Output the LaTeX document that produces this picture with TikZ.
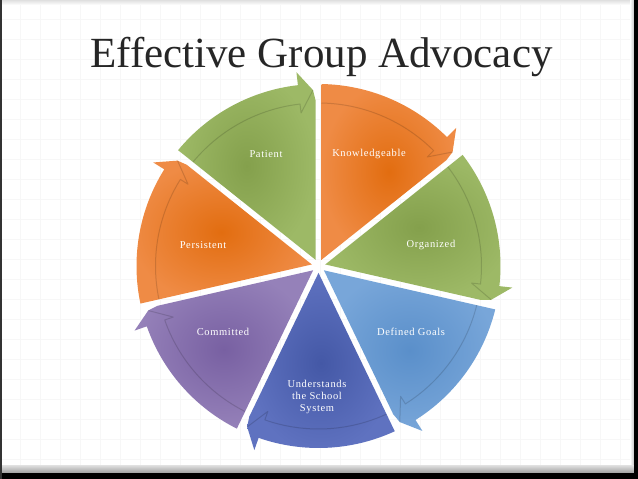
\documentclass[tikz,border=0pt]{standalone}
\usepackage{fontspec}
\setmainfont{Liberation Serif}
\newfontfamily\labelfont[LetterSpace=6]{Liberation Serif}
\definecolor{grnIn}{HTML}{84A04C}
\definecolor{grnOut}{HTML}{9DB966}
\definecolor{orgIn}{HTML}{E26D10}
\definecolor{orgOut}{HTML}{EF8B45}
\definecolor{ltbIn}{HTML}{5A8FCA}
\definecolor{ltbOut}{HTML}{78A6D9}
\definecolor{dkbIn}{HTML}{4458A6}
\definecolor{dkbOut}{HTML}{5F72C0}
\definecolor{purIn}{HTML}{7860A2}
\definecolor{purOut}{HTML}{9581B9}
\definecolor{titlecol}{HTML}{262626}
\newcommand\pieseg[4]{%
  \pgfmathsetmacro\sa{#1}%
  \pgfmathsetmacro\sb{#2}%
  \pgfmathsetmacro\segmid{(#1+#2)/2}%
  \shade[inner color=#3, outer color=#4]
    (\segmid:6.91) -- ({\sa-asin(3/182)}:182)
    arc[start angle={\sa-asin(3/182)}, end angle={\sb+6.5}, radius=182]
    -- ({\sb+6.5}:195) -- ({\sb+1.8}:176) -- ({\sb+asin(3/166)}:166) -- cycle;
  \draw[shadowline] ({\sa-asin(3/163)}:163)
    arc[start angle={\sa-asin(3/163)}, end angle={\sb+6.5}, radius=163]
    -- ({\sb+6.5}:154) -- ({\sb+1.8}:176);
}
\begin{document}
\begin{tikzpicture}[x=1pt,y=1pt,
  seglabel/.style={text=white, font=\labelfont\fontsize{10.5}{12}\selectfont, align=center, inner sep=0pt},
  shadowline/.style={draw=black, draw opacity=0.14, line width=1pt, line join=round}]
\useasboundingbox (0,0) rectangle (638,479);
\fill[white] (0,0) rectangle (638,479);
\draw[black!3, line width=0.5pt, step=20] (0,0) grid (638,479);
% slide frame
\shade[top color=gray!25, bottom color=white] (0,474) rectangle (634,479);
\shade[left color=white, right color=gray!45] (630,0) rectangle (634,479);
\shade[top color=gray!30, bottom color=gray!75] (0,6) rectangle (634,13);
\fill[black] (634,0) rectangle (638,479);
\fill[black] (0,0) rectangle (638,6);
\fill[black!80] (0,0) rectangle (1.5,479);
% title
\node[anchor=base west, inner sep=0pt, text=titlecol, font=\fontsize{43}{50}\selectfont] (title) at (90,411) {Effective Group Advocacy};
% pie segments
\begin{scope}[shift={(318.5,213)}]
  \pieseg{141.4286}{90}{grnIn}{grnOut}
  \pieseg{90}{38.5714}{orgIn}{orgOut}
  \pieseg{38.5714}{-12.8571}{grnIn}{grnOut}
  \pieseg{-12.8571}{-64.2857}{ltbIn}{ltbOut}
  \pieseg{-64.2857}{-115.7143}{dkbIn}{dkbOut}
  \pieseg{-115.7143}{-167.1429}{purIn}{purOut}
  \pieseg{192.8571}{141.4286}{orgIn}{orgOut}
\end{scope}
% labels
\node[seglabel] (patient) at (266,325) {Patient};
\node[seglabel] (knowledgeable) at (369,325) {Knowledgeable};
\node[seglabel] (organized) at (431,234) {Organized};
\node[seglabel] (defined) at (411,147) {Defined Goals};
\node[seglabel] (understands) at (317,82) {Understands\\the School\\System};
\node[seglabel] (committed) at (223,147) {Committed};
\node[seglabel] (persistent) at (203,234) {Persistent};
\end{tikzpicture}
\end{document}
